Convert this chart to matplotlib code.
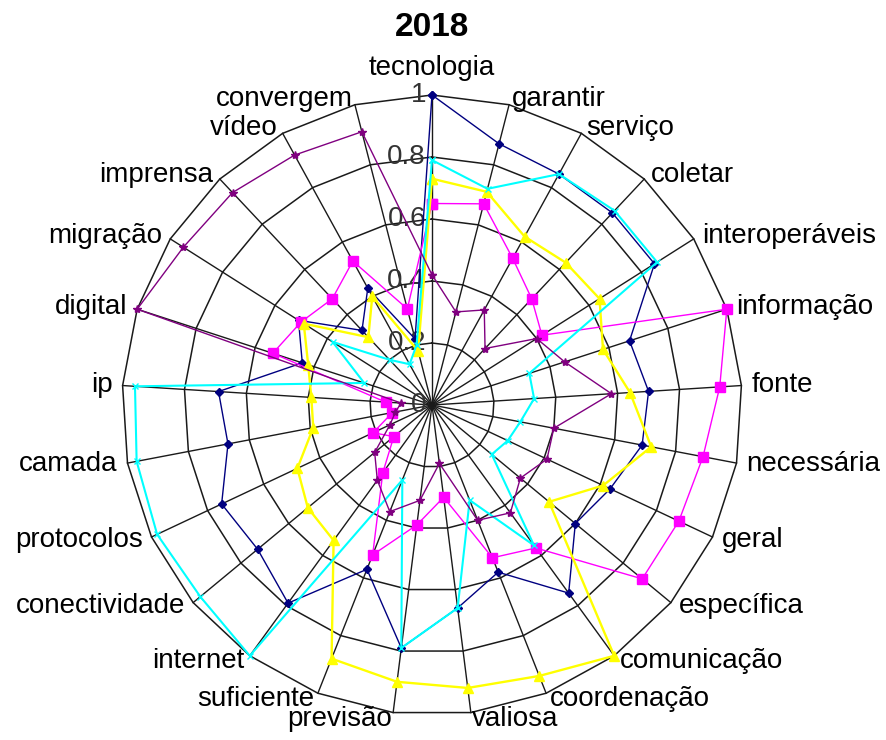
import numpy as np
import matplotlib
matplotlib.use("Agg")
import matplotlib.pyplot as plt
from matplotlib.transforms import offset_copy

plt.rcParams['font.family'] = ['Liberation Sans', 'DejaVu Sans']

# categories, clockwise from the top
categories = ['tecnologia', 'garantir', 'serviço', 'coletar', 'interoperáveis',
              'informação', 'fonte', 'necessária', 'geral', 'específica',
              'comunicação', 'coordenação', 'valiosa', 'previsão', 'suficiente',
              'internet', 'conectividade', 'protocolos', 'camada', 'ip',
              'digital', 'migração', 'imprensa', 'vídeo', 'convergem']

navy = [1.0, 0.87, 0.85, 0.85, 0.85, 0.67, 0.70, 0.69, 0.635, 0.60,
        0.75, 0.58, 0.66, 0.79, 0.57, 0.79, 0.73, 0.75, 0.67, 0.69,
        0.44, 0.51, 0.33, 0.43, 0.22]
magenta = [0.65, 0.67, 0.54, 0.47, 0.42, 1.0, 0.93, 0.89, 0.88, 0.88,
           0.57, 0.53, 0.30, 0.39, 0.52, 0.27, 0.16, 0.21, 0.13, 0.15,
           0.54, 0.50, 0.47, 0.53, 0.32]
yellow = [0.73, 0.71, 0.62, 0.63, 0.64, 0.58, 0.64, 0.72, 0.61, 0.49,
          1.0, 0.94, 0.92, 0.90, 0.88, 0.54, 0.52, 0.48, 0.39, 0.39,
          0.42, 0.49, 0.30, 0.40, 0.18]
cyan = [0.79, 0.72, 0.85, 0.86, 0.86, 0.33, 0.33, 0.29, 0.27, 0.25,
        0.56, 0.33, 0.66, 0.79, 0.26, 1.0, 0.97, 0.98, 0.97, 0.96,
        0.23, 0.38, 0.20, 0.15, 0.20]
purple = [0.42, 0.31, 0.35, 0.25, 0.40, 0.45, 0.58, 0.40, 0.41, 0.37,
          0.43, 0.40, 0.19, 0.31, 0.37, 0.30, 0.24, 0.15, 0.12, 0.10,
          1.0, 0.95, 0.94, 0.92, 0.91]

rings = [0.2, 0.4, 0.6, 0.8, 1.0]
ring_labels = ['0', '0.2', '0.4', '0.6', '0.8', '1']

n = len(categories)
theta = np.linspace(0, 2 * np.pi, n, endpoint=False)
theta_c = np.append(theta, theta[0])


def closed(v):
    return np.append(v, v[0])


fig = plt.figure(figsize=(8.86, 7.40), dpi=100)
ax = fig.add_axes([122 / 886, 25 / 740, 620 / 886, 620 / 740], projection='polar')
ax.set_theta_offset(np.pi / 2)
ax.set_theta_direction(-1)
ax.set_ylim(0, 1)
ax.set_xticks([])
ax.set_yticks([])
ax.grid(False)
ax.spines['polar'].set_visible(False)

# polygon grid
for r in rings:
    ax.plot(theta_c, [r] * (n + 1), color='#1a1a1a', lw=1.1, clip_on=False, zorder=1)
for t in theta:
    ax.plot([t, t], [0, 1], color='#1a1a1a', lw=1.0, clip_on=False, zorder=1)

series = [
    (navy, '#000080', 'D', 4.5, 1.0),
    (magenta, '#FF00FF', 's', 6.5, 1.0),
    (yellow, '#FFFF00', '^', 6.5, 1.7),
    (cyan, '#00FFFF', 'x', 5, 1.5),
    (purple, '#800080', '*', 6, 1.0),
]
for vals, col, mk, ms, lw in series:
    ax.plot(theta_c, closed(vals), color=col, lw=lw, marker=mk, ms=ms,
            mfc=col, mec=col, clip_on=False, zorder=3)

# category labels
fs = 20
for t, lab in zip(theta, categories):
    s, c = np.sin(t), np.cos(t)
    if abs(s) < 0.05:
        ha = 'center'
    elif s > 0:
        ha = 'left'
    else:
        ha = 'right'
    if lab == 'tecnologia':
        tr = offset_copy(ax.transData, fig=fig, x=0, y=14, units='dots')
        ax.text(t, 1.0, lab, ha='center', va='bottom', fontsize=fs, transform=tr)
        continue
    tr = offset_copy(ax.transData, fig=fig, x=10 * s, y=6 * c, units='dots')
    ax.text(t, 1.0, lab, ha=ha, va='center', fontsize=fs, transform=tr)

# radial tick labels along the top spoke
tr = offset_copy(ax.transData, fig=fig, x=-6, y=0, units='dots')
for r, lab in zip([0.0] + rings, ring_labels):
    ax.text(0, r, lab, ha='right', va='center', fontsize=fs, color='#333333',
            transform=tr, zorder=2)

fig.text(432 / 886, 1 - 27 / 740, '2018', ha='center', va='center',
         fontsize=24, fontweight='bold')

fig.savefig('out.png', dpi=100)
